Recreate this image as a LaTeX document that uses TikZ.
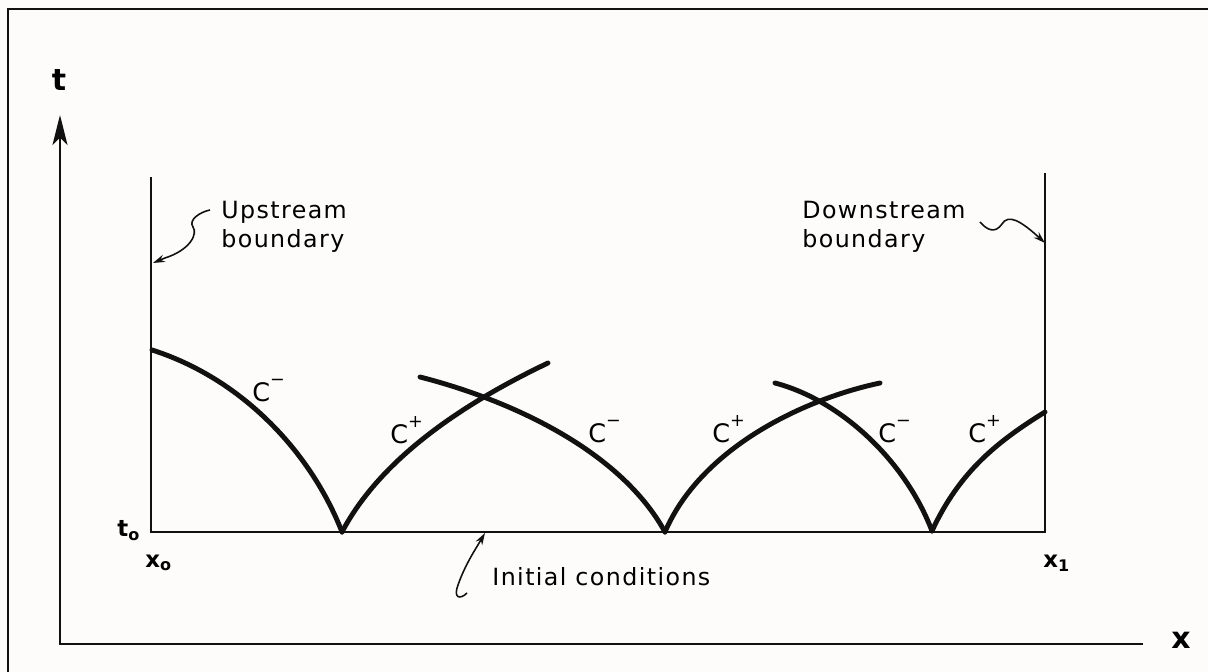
\documentclass[tikz,border=0pt]{standalone}
\usepackage{fontspec}
\setmainfont{DejaVu Sans}[LetterSpace=6]
\usetikzlibrary{arrows.meta}
\definecolor{ink}{HTML}{111111}
\definecolor{paper}{HTML}{FDFCFA}
\newcommand{\chsup}[1]{\raisebox{0.6em}{\fontsize{10}{10}\selectfont #1}}

\begin{document}
\begin{tikzpicture}[x=0.02cm, y=-0.02cm, font=\fontsize{13.5}{16.5}\selectfont,
  frame/.style={line width=1.5pt, ink},
  axis/.style={line width=1.5pt, ink},
  wall/.style={line width=1.2pt, ink},
  charline/.style={line width=2.8pt, ink, line cap=round},
  lead/.style={line width=0.9pt, ink, -{Stealth[length=2.4mm, width=1.5mm]}},
  tag/.style={inner sep=0pt, anchor=base west},
  chlabel/.style={tag, font=\fontsize{14.5}{16}\selectfont},
  note/.style={inner sep=0pt, anchor=north west, align=left},
  axlabel/.style={inner sep=0pt, font=\fontsize{17}{19}\selectfont\bfseries}]
  \fill[paper] (0,0) rectangle (1208,672);
  \useasboundingbox (0,0) rectangle (1208,672);
  \draw[frame] (8,672) -- (8,9) -- (1208,9);

  % axes
  \coordinate (o) at (60,644);
  \coordinate (ttop) at (60,115);
  \coordinate (xend) at (1143,644);
  \draw[axis, -{Stealth[length=6mm, width=3mm, inset=1.5mm]}] (xend) -- (o) -- (ttop);
  \node[axlabel] (tl) at (59,80) {t};
  \node[axlabel] (xl) at (1181,640) {x};

  % boundaries and initial line
  \coordinate (ub) at (151,177);
  \coordinate (x0) at (151,532);
  \coordinate (x1) at (1045,532);
  \coordinate (db) at (1045,173);
  \draw[wall] (ub) -- (x0) -- (x1) -- (db);
  \node[tag, font=\fontsize{13}{15}\selectfont\bfseries] (t0) at (117,537) {t\textsubscript{o}};
  \node[tag, font=\fontsize{13}{15}\selectfont\bfseries] (xo) at (145,567) {x\textsubscript{o}};
  \node[tag, font=\fontsize{13}{15}\selectfont\bfseries] (xi) at (1043,567) {x\textsubscript{1}};

  % characteristics
  \coordinate (c1s) at (152,350);
  \coordinate (v1) at (342,532);
  \coordinate (c2e) at (548,363);
  \coordinate (c3s) at (420,377);
  \coordinate (v2) at (665,532);
  \coordinate (c4e) at (880,383);
  \coordinate (c5s) at (775,383);
  \coordinate (v3) at (932,531);
  \coordinate (c6e) at (1045,412);
  \draw[charline] (c1s) .. controls (240,378) and (310,450) .. (v1);
  \draw[charline] (v1) .. controls (380,460) and (460,405) .. (c2e);
  \draw[charline] (c3s) .. controls (510,400) and (620,450) .. (v2);
  \draw[charline] (v2) .. controls (700,450) and (800,400) .. (c4e);
  \draw[charline] (c5s) .. controls (840,400) and (905,460) .. (v3);
  \draw[charline] (v3) .. controls (960,470) and (1000,440) .. (c6e);
  \node[chlabel] (cm1) at (252,401) {C\chsup{−}};
  \node[chlabel] (cp2) at (390,443) {C\chsup{+}};
  \node[chlabel] (cm3) at (588,442) {C\chsup{−}};
  \node[chlabel] (cp4) at (712,442) {C\chsup{+}};
  \node[chlabel] (cm5) at (878,442) {C\chsup{−}};
  \node[chlabel] (cp6) at (968,442) {C\chsup{+}};

  % notes with leaders
  \node[note] (up) at (221,201) {Upstream\\boundary};
  \node[note] (down) at (802,201) {Downstream\\boundary};
  \node[tag] (init) at (492,585) {Initial conditions};
  \coordinate (us) at (210,210);
  \coordinate (ut) at (153,263);
  \coordinate (ds) at (980,222);
  \coordinate (dt) at (1045,243);
  \coordinate (is) at (467,593);
  \coordinate (it) at (485,533);
  \draw[lead] (us) .. controls (200,212) and (188,220) .. (193,227)
    .. controls (198,234) and (190,250) .. (165,258) -- (ut);
  \draw[lead] (ds) .. controls (987,230) and (995,234) .. (1002,224)
    .. controls (1008,214) and (1020,220) .. (dt);
  \draw[lead] (is) .. controls (460,600) and (453,598) .. (458,585)
    .. controls (465,565) and (475,550) .. (it);
\end{tikzpicture}
\end{document}
